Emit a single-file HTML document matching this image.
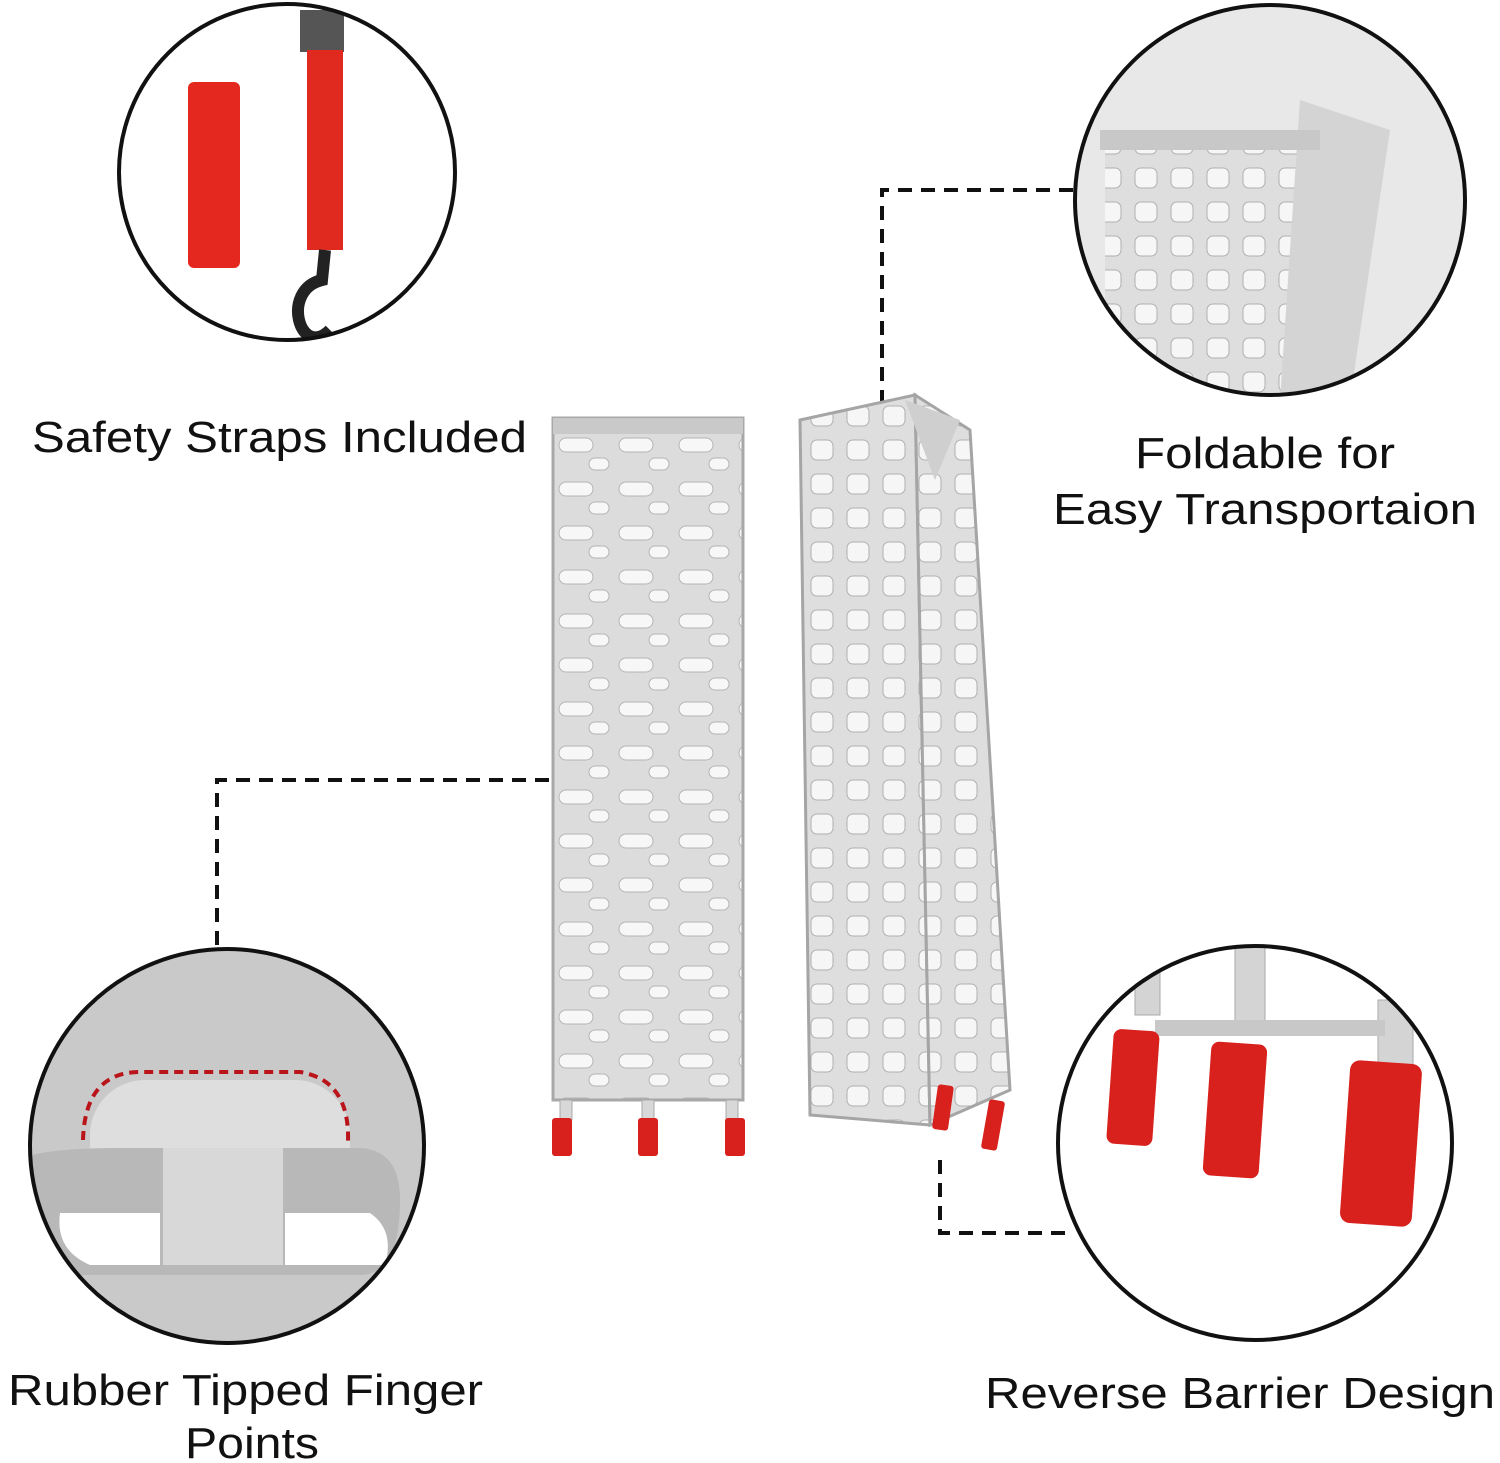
<!DOCTYPE html>
<html><head><meta charset="utf-8"><style>
html,body{margin:0;padding:0;background:#fff;}
svg{display:block}
text{font-family:"Liberation Sans",sans-serif;fill:#111;}
</style></head><body>
<svg width="1500" height="1463" viewBox="0 0 1500 1463" xmlns="http://www.w3.org/2000/svg">
<defs>
<pattern id="holes" x="553" y="430" width="60" height="44" patternUnits="userSpaceOnUse">
<rect width="60" height="44" fill="#dcdcdc"/>
<rect x="6" y="8" width="34" height="14" rx="7" fill="#f7f7f7" stroke="#b5b5b5"/>
<rect x="36" y="28" width="20" height="12" rx="6" fill="#f7f7f7" stroke="#b5b5b5"/>
</pattern>
<pattern id="holes2" x="805" y="400" width="36" height="34" patternUnits="userSpaceOnUse">
<rect width="36" height="34" fill="#dedede"/>
<rect x="6" y="6" width="22" height="20" rx="6" fill="#f6f6f6" stroke="#b0b0b0"/>
</pattern>
<clipPath id="c1"><circle cx="287" cy="172" r="168"/></clipPath>
<clipPath id="c2"><circle cx="1270" cy="200" r="195"/></clipPath>
<clipPath id="c3"><circle cx="227" cy="1146" r="197"/></clipPath>
<clipPath id="c4"><circle cx="1255" cy="1143" r="197"/></clipPath>
</defs>

<!-- dashed connectors -->
<g stroke="#111" stroke-width="4" stroke-dasharray="14,9" fill="none">
<path d="M1073 190 H882 V410"/>
<path d="M217 945 V780 H597"/>
<path d="M940 1160 V1233 H1068"/>
</g>

<!-- ramp 1 -->
<rect x="553" y="418" width="190" height="682" fill="url(#holes)" stroke="#a8a8a8" stroke-width="3"/>
<rect x="553" y="418" width="190" height="16" fill="#c9c9c9"/>
<g fill="#d8d8d8" stroke="#aaa"><rect x="560" y="1100" width="12" height="20"/><rect x="642" y="1100" width="12" height="20"/><rect x="726" y="1100" width="12" height="20"/></g>
<g fill="#d8201d"><rect x="552" y="1118" width="20" height="38" rx="3"/><rect x="638" y="1118" width="20" height="38" rx="3"/><rect x="725" y="1118" width="20" height="38" rx="3"/></g>

<!-- ramp 2 -->
<polygon points="800,420 915,395 930,1125 810,1115" fill="url(#holes2)" stroke="#a5a5a5" stroke-width="3"/>
<polygon points="915,395 970,430 1010,1090 930,1125" fill="url(#holes2)" stroke="#a5a5a5" stroke-width="3"/>
<polygon points="905,400 960,420 935,480" fill="#cfcfcf"/>
<g fill="#d8201d"><rect x="935" y="1085" width="16" height="45" rx="3" transform="rotate(8 943 1107)"/><rect x="985" y="1100" width="16" height="50" rx="3" transform="rotate(10 993 1125)"/></g>

<!-- circle 1: straps -->
<g clip-path="url(#c1)">
<rect x="100" y="0" width="380" height="360" fill="#fff"/>
<rect x="188" y="82" width="52" height="186" rx="6" fill="#e5281f"/>
<rect x="300" y="10" width="44" height="42" fill="#555"/>
<rect x="307" y="50" width="36" height="200" fill="#e02a20"/>
<path d="M325 250 L322 280 C280 290 300 360 330 330" stroke="#222" stroke-width="12" fill="none"/>
</g>
<circle cx="287" cy="172" r="168" fill="none" stroke="#111" stroke-width="4"/>

<!-- circle 2: hinge -->
<g clip-path="url(#c2)">
<rect x="1070" y="0" width="410" height="400" fill="#e8e8e8"/>
<rect x="1105" y="140" width="200" height="260" fill="url(#holes2)"/>
<polygon points="1300,100 1390,130 1350,400 1280,400" fill="#d4d4d4"/>
<rect x="1100" y="130" width="220" height="20" fill="#c8c8c8"/>
</g>
<circle cx="1270" cy="200" r="195" fill="none" stroke="#111" stroke-width="4"/>

<!-- circle 3: finger point -->
<g clip-path="url(#c3)">
<rect x="25" y="945" width="410" height="410" fill="#c9c9c9"/>
<rect x="90" y="1080" width="260" height="140" rx="55" fill="#dedede"/>
<path d="M20 1160 Q40 1148 120 1148 L360 1148 Q400 1150 400 1200 Q400 1275 360 1275 L20 1275 Z" fill="#b8b8b8"/>
<path d="M60 1213 L160 1213 L160 1265 L90 1265 Q55 1250 60 1213 Z" fill="#fff"/>
<path d="M285 1213 L370 1213 Q395 1230 385 1265 L285 1265 Z" fill="#fff"/>
<rect x="163" y="1148" width="120" height="117" fill="#d8d8d8"/>
<path d="M83 1140 Q85 1072 140 1072 L300 1072 Q350 1080 348 1142" stroke="#b8141a" stroke-width="4" stroke-dasharray="9,6" fill="none"/>
</g>
<circle cx="227" cy="1146" r="197" fill="none" stroke="#111" stroke-width="4"/>

<!-- circle 4: rubber tips -->
<g clip-path="url(#c4)">
<rect x="1050" y="940" width="420" height="410" fill="#fff"/>
<g fill="#d4d4d4" stroke="#aaa"><rect x="1135" y="940" width="25" height="75"/><rect x="1235" y="940" width="30" height="85"/><rect x="1378" y="1000" width="35" height="65"/></g>
<rect x="1155" y="1020" width="230" height="16" fill="#c8c8c8"/>
<g fill="#d8201d"><rect x="1110" y="1030" width="46" height="115" rx="8" transform="rotate(4 1133 1087)"/><rect x="1207" y="1043" width="56" height="134" rx="8" transform="rotate(4 1235 1110)"/><rect x="1345" y="1062" width="72" height="163" rx="10" transform="rotate(4 1381 1143)"/></g>
</g>
<circle cx="1255" cy="1143" r="197" fill="none" stroke="#111" stroke-width="4"/>

<!-- labels -->
<text x="32" y="452" font-size="44" textLength="495" lengthAdjust="spacingAndGlyphs">Safety Straps Included</text>
<text x="1135" y="468" font-size="44" textLength="260" lengthAdjust="spacingAndGlyphs">Foldable for</text>
<text x="1053" y="524" font-size="44" textLength="424" lengthAdjust="spacingAndGlyphs">Easy Transportaion</text>
<text x="8" y="1405" font-size="44" textLength="475" lengthAdjust="spacingAndGlyphs">Rubber Tipped Finger</text>
<text x="185" y="1458" font-size="44" textLength="134" lengthAdjust="spacingAndGlyphs">Points</text>
<text x="985" y="1408" font-size="44" textLength="510" lengthAdjust="spacingAndGlyphs">Reverse Barrier Design</text>
</svg>
</body></html>
